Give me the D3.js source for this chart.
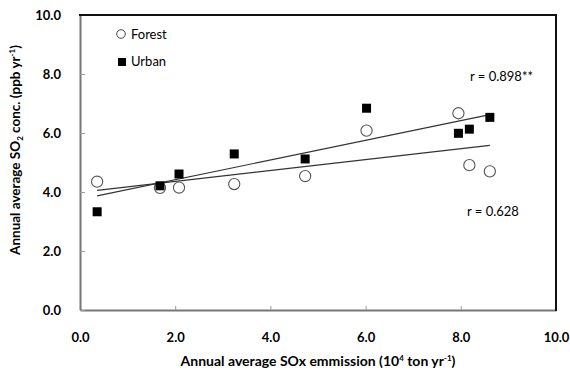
<!DOCTYPE html>
<html>
<head>
<meta charset="utf-8">
<script src="https://cdn.jsdelivr.net/npm/d3@7/dist/d3.min.js"></script>
<style>
  body { margin: 0; background: #fff; }
  svg { font-family: Lato, "Liberation Sans", sans-serif; }
</style>
</head>
<body>
<svg id="chart" width="570" height="376"></svg>
<script>
// emission (10^4 ton/yr) per site, same x for both groups
const emission = [0.36, 1.68, 2.08, 3.24, 4.73, 6.02, 7.95, 8.18, 8.61];
const forestConc = [4.35, 4.14, 4.15, 4.27, 4.54, 6.08, 6.67, 4.91, 4.70];
const urbanConc = [3.33, 4.21, 4.61, 5.29, 5.12, 6.84, 5.99, 6.13, 6.53];
const xTicks = [0, 2, 4, 6, 8, 10];
const yTicks = [0, 2, 4, 6, 8, 10];
const rLabels = ["r = 0.898**", "r = 0.628"];

const svg = d3.select("#chart");
const m = { left: 80, right: 556, top: 15, bottom: 310 };

const x = d3.scaleLinear().domain([0, 10]).range([m.left, m.right]);
const y = d3.scaleLinear().domain([0, 10]).range([m.bottom, m.top]);

// least squares fit
const fit = (xs, ys) => {
    let mx = d3.mean(xs), my = d3.mean(ys);
    let sxy = d3.sum(xs, (v, i) => (v - mx) * (ys[i] - my));
    let sxx = d3.sum(xs, v => (v - mx) * (v - mx));
    let b = sxy / sxx;
    return { a: my - b * mx, b: b };
};

// axes
const xAxis = svg.append("g").attr("transform", "translate(0," + m.bottom + ")")
    .call(d3.axisBottom(x).tickValues(xTicks).tickFormat(d3.format(".1f"))
        .tickSizeInner(-4).tickSizeOuter(0).tickPadding(23));
const yAxis = svg.append("g").attr("transform", "translate(" + m.left + ",0)")
    .call(d3.axisLeft(y).tickValues(yTicks).tickFormat(d3.format(".1f"))
        .tickSizeInner(-5).tickSizeOuter(0).tickPadding(19));

[xAxis, yAxis].forEach(g => {
    g.select(".domain").attr("stroke", "#777").attr("stroke-width", 2);
    g.selectAll(".tick line").attr("stroke", "#999");
    g.selectAll(".tick text").attr("fill", "#000")
        .style("font-size", "13px").style("font-weight", "bold")
        .style("font-family", "Lato, 'Liberation Sans', sans-serif");
});
yAxis.selectAll(".tick text").attr("dy", "0.36em");

// top & right frame
svg.append("path")
    .attr("d", "M" + (m.left - 1) + "," + m.top + "H" + m.right + "V" + (m.bottom + 1))
    .attr("fill", "none").attr("stroke", "#111").attr("stroke-width", 2);

// trend lines
const groups = [
    { ys: urbanConc, label: rLabels[0] },
    { ys: forestConc, label: rLabels[1] }
];
groups.forEach(g => {
    let f = fit(emission, g.ys);
    let x0 = d3.min(emission), x1 = d3.max(emission);
    svg.append("line")
        .attr("x1", x(x0)).attr("y1", y(f.a + f.b * x0))
        .attr("x2", x(x1)).attr("y2", y(f.a + f.b * x1))
        .attr("stroke", "#333").attr("stroke-width", 1.2);
});

// points
svg.append("g").selectAll("circle").data(emission).enter().append("circle")
    .attr("cx", d => x(d))
    .attr("cy", (d, i) => y(forestConc[i]))
    .attr("r", 5.6)
    .attr("fill", "#fff").attr("stroke", "#555").attr("stroke-width", 1.1);

svg.append("g").selectAll("rect").data(emission).enter().append("rect")
    .attr("x", d => x(d) - 4.5)
    .attr("y", (d, i) => y(urbanConc[i]) - 4.5)
    .attr("width", 9).attr("height", 9)
    .attr("fill", "#000");

// r labels
svg.append("text").attr("x", 470).attr("y", 81).text(rLabels[0])
    .style("font-size", "13px");
svg.append("text").attr("x", 467).attr("y", 216).text(rLabels[1])
    .style("font-size", "13px");

// legend
svg.append("circle").attr("cx", 121).attr("cy", 34).attr("r", 4.3)
    .attr("fill", "#fff").attr("stroke", "#444").attr("stroke-width", 1);
svg.append("text").attr("x", 131).attr("y", 39).text("Forest").style("font-size", "13px");
svg.append("rect").attr("x", 118).attr("y", 58).attr("width", 8).attr("height", 8).attr("fill", "#000");
svg.append("text").attr("x", 131).attr("y", 66).text("Urban").style("font-size", "13px");

// axis titles
const xt = svg.append("text").attr("x", (m.left + m.right) / 2).attr("y", 366)
    .attr("text-anchor", "middle").style("font-size", "14px").style("font-weight", "bold");
xt.append("tspan").text("Annual average SOx emmission (10");
xt.append("tspan").text("4").style("font-size", "8px").attr("dy", -5);
xt.append("tspan").text(" ton yr").attr("dy", 5);
xt.append("tspan").text("-1").style("font-size", "8px").attr("dy", -5);
xt.append("tspan").text(")").attr("dy", 5);

const yt = svg.append("text")
    .attr("transform", "translate(20," + 150 + ") rotate(-90)")
    .attr("text-anchor", "middle").style("font-size", "13.5px").style("font-weight", "bold");
yt.append("tspan").text("Annual average SO");
yt.append("tspan").text("2").style("font-size", "8px").attr("dy", 3);
yt.append("tspan").text(" conc. (ppb yr").attr("dy", -3);
yt.append("tspan").text("-1").style("font-size", "8px").attr("dy", -5);
yt.append("tspan").text(")").attr("dy", 5);
</script>
</body>
</html>
